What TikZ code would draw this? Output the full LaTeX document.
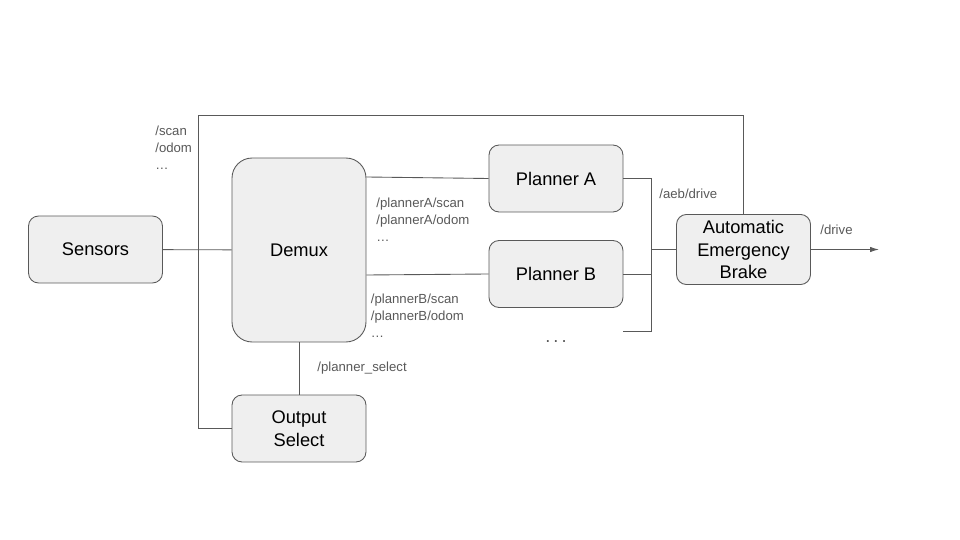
\documentclass[tikz,border=0pt]{standalone}
\usepackage{fontspec}
\setmainfont{Liberation Sans}
\usetikzlibrary{arrows.meta}
\definecolor{boxfill}{HTML}{EFEFEF}
\definecolor{wire}{HTML}{595959}
\begin{document}
\begin{tikzpicture}[x=0.02cm, y=-0.02cm,
    block/.style={draw=wire, fill=boxfill, line width=0.5pt, rounded corners=0.2cm,
      minimum width=2.68cm, minimum height=1.34cm, align=center,
      font=\fontsize{10.4}{12.8}\selectfont},
    topic/.style={text=wire, inner sep=0pt, align=left, anchor=west,
      font=\fontsize{7.5}{9.6}\selectfont},
    link/.style={draw=wire, line width=0.5pt}]
    \useasboundingbox (0,0) rectangle (960,540);

    % Blocks
    \node[block] (sensors) at (95.5,249.5) {Sensors};
    \node[block, minimum height=3.68cm, rounded corners=0.4cm] (demux) at (299,250) {Demux};
    \node[block] (plannerA) at (556,178.5) {Planner A};
    \node[block] (plannerB) at (556,274) {Planner B};
    \node[block] (aeb) at (743.5,249.5) {Automatic\\Emergency\\Brake};
    \node[block] (outsel) at (299,428.5) {Output\\Select};
    \node[text=wire, font=\fontsize{10.4}{12.5}\selectfont] (morePlanners) at (556,342) {.\,.\,.};

    % Junction points
    \coordinate (splitL) at (198,249.5);
    \coordinate (topL) at (198,115);
    \coordinate (busR) at (651,249.5);
    \coordinate (moreP) at (623,331);
    \coordinate (driveEnd) at (879,249.5);

    % Sensors to demux, bypass loop to output select and AEB
    \draw[link] (sensors) -- (demux);
    \draw[link] (outsel.west) -| (topL) -| (aeb.north);

    % Demux to the planners
    \draw[link] (demux.east |- 0,177) -- (plannerA.west);
    \draw[link] (demux.east |- 0,275) -- (plannerB.west);
    \draw[link] (demux) -- (outsel);

    % Planners to AEB
    \draw[link] (plannerA.east) -| (busR);
    \draw[link] (plannerB.east) -| (busR);
    \draw[link] (moreP) -| (busR);
    \draw[link] (busR) -- (aeb.west);
    \draw[link, -{Latex[length=5pt, width=3pt]}] (aeb.east) -- (driveEnd);

    % Topic labels
    \node[topic] (tSensors) at (155,148) {/scan\\/odom\\\dots};
    \node[topic] (tPlannerA) at (376,220) {/plannerA/scan\\/plannerA/odom\\\dots};
    \node[topic] (tPlannerB) at (370.5,316) {/plannerB/scan\\/plannerB/odom\\\dots};
    \node[topic] (tSelect) at (317,368) {/planner\_select};
    \node[topic] (tAeb) at (659,194) {/aeb/drive};
    \node[topic] (tDrive) at (820,230) {/drive};
  \end{tikzpicture}
\end{document}
